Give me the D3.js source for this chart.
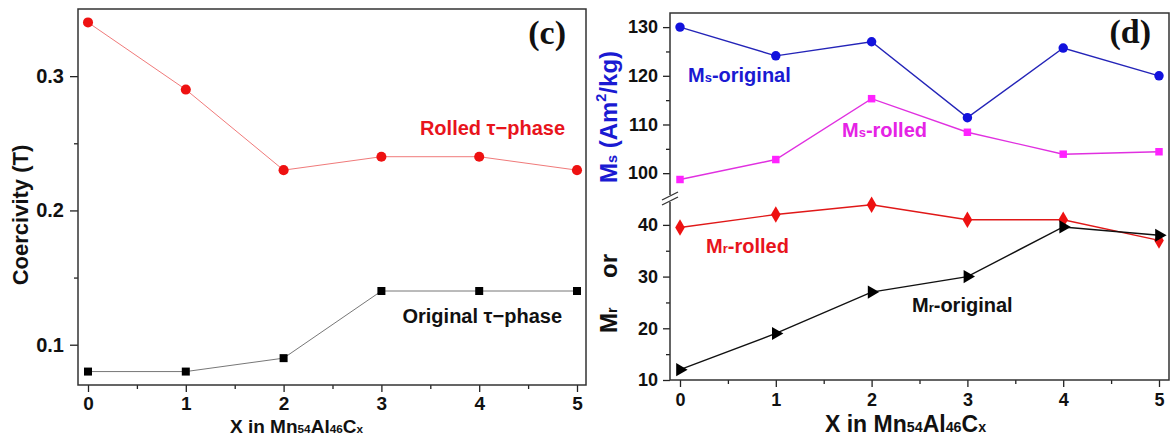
<!DOCTYPE html>
<html>
<head>
<meta charset="utf-8">
<script src="https://cdn.jsdelivr.net/npm/d3@7"></script>
<style>
  html, body { margin: 0; padding: 0; background: #ffffff; }
  svg { display: block; }
  text { font-family: "Liberation Sans", Arial, sans-serif; font-weight: bold; }
  text.panel-tag { font-family: "Liberation Serif", "Times New Roman", serif; }
</style>
</head>
<body>
<svg id="chart" width="1171" height="445"></svg>
<script>
// Composition x in Mn54Al46Cx
const xValues = [0, 1, 2, 3, 4, 5];
const xMajorTicks = [0, 1, 2, 3, 4, 5];
const xMinorTicks = [0.5, 1.5, 2.5, 3.5, 4.5];

// Panel (c): coercivity (T)
const coercRolled = [0.34, 0.29, 0.23, 0.24, 0.24, 0.23];
const coercOriginal = [0.08, 0.08, 0.09, 0.14, 0.14, 0.14];
const coercMajorTicks = [0.1, 0.2, 0.3];
const coercMinorTicks = [0.15, 0.25];

// Panel (d): saturation magnetisation Ms (upper) and remanence Mr (lower), Am²/kg
const msOriginal = [130, 124.1, 127, 111.4, 125.7, 120];
const msRolled = [98.7, 102.8, 115.3, 108.4, 103.9, 104.4];
const mrRolled = [39.5, 42, 43.9, 41, 41, 37];
const mrOriginal = [12, 19, 27, 30, 39.6, 38];
const msMajorTicks = [100, 110, 120, 130];
const msMinorTicks = [105, 115, 125];
const mrMajorTicks = [10, 20, 30, 40];
const mrMinorTicks = [15, 25, 35];

const svg = d3.select("#chart");

// Write a text element made of styled runs (subscripts, superscripts, colours)
function richText(parent, x, y, runs, size, opts = {}) {
  const t = parent.append("text")
    .attr("x", x).attr("y", y)
    .attr("font-size", size)
    .attr("text-anchor", opts.anchor || "start")
    .attr("fill", opts.fill || "#111");
  if (opts.transform) t.attr("transform", opts.transform);
  let shift = 0;
  runs.forEach(r => {
    const sc = r.scale || 1;
    const target = r.shift || 0;
    const ts = t.append("tspan").text(r.t).attr("font-size", size * sc);
    if (target !== shift) { ts.attr("dy", (target - shift) * size); shift = target; }
    if (r.fill) ts.attr("fill", r.fill);
  });
  return t;
}

function drawTicks(g, axis, scale, major, minor, majorLen, minorLen, pad, fontSize, fmt) {
  const gMaj = g.append("g").call(axis(scale).tickValues(major).tickSize(majorLen)
    .tickSizeOuter(0).tickPadding(pad).tickFormat(fmt));
  gMaj.select(".domain").remove();
  gMaj.selectAll("text").attr("font-size", fontSize).attr("fill", "#111");
  gMaj.selectAll("line").attr("stroke", "#222").attr("stroke-width", 1.3);
  const gMin = g.append("g").call(axis(scale).tickValues(minor).tickSize(minorLen)
    .tickSizeOuter(0).tickFormat(""));
  gMin.select(".domain").remove();
  gMin.selectAll("line").attr("stroke", "#222").attr("stroke-width", 1.3);
  return gMaj;
}

function series(g, x, y, xs, ys, lineColor, lineWidth, symbol, symSize, fill, rotate = 0) {
  const line = d3.line().x((d, i) => x(xs[i])).y(d => y(d));
  g.append("path").datum(ys).attr("d", line)
    .attr("fill", "none").attr("stroke", lineColor).attr("stroke-width", lineWidth);
  g.selectAll(null).data(ys).join("path")
    .attr("d", d3.symbol().type(symbol).size(symSize))
    .attr("transform", (d, i) => `translate(${x(xs[i])},${y(d)}) rotate(${rotate})`)
    .attr("fill", fill);
}

// ---------- Panel (c) ----------
const cL = 78, cR = 586, cT = 9, cB = 385;
const xC = d3.scaleLinear([0, 5], [88, 577]);
const yC = d3.scaleLinear([0.07, 0.35], [cB, cT]);
const gc = svg.append("g");

gc.append("g").attr("transform", `translate(0,${cB})`).call(g =>
  drawTicks(g, d3.axisBottom, xC, xMajorTicks, xMinorTicks, 7, 4, 5, 19, d3.format("d")));
gc.append("g").attr("transform", `translate(${cL},0)`).call(g =>
  drawTicks(g, d3.axisLeft, yC, coercMajorTicks, coercMinorTicks, 8, 4, 6, 20, d3.format(".1f")));

gc.append("rect").attr("x", cL).attr("y", cT).attr("width", cR - cL).attr("height", cB - cT)
  .attr("fill", "none").attr("stroke", "#333").attr("stroke-width", 1.5);

series(gc, xC, yC, xValues, coercRolled, "#f07a7a", 1, d3.symbolCircle, 80, "#ee1111");
series(gc, xC, yC, xValues, coercOriginal, "#777", 1, d3.symbolSquare, 64, "#000");

richText(gc, 565, 135, [{ t: "Rolled τ−phase" }], 20, { anchor: "end", fill: "#e8141c" });
richText(gc, 562, 323, [{ t: "Original τ−phase" }], 20, { anchor: "end", fill: "#111" });
gc.append("text").attr("class", "panel-tag").attr("x", 566).attr("y", 44)
  .attr("text-anchor", "end").attr("font-size", 34).attr("fill", "#111").text("(c)");

richText(gc, 230, 433, [
  { t: "X in Mn" }, { t: "54", scale: 0.62 }, { t: "Al" }, { t: "46", scale: 0.62 },
  { t: "C" }, { t: "x", scale: 0.62 }], 19);
richText(gc, 0, 0, [{ t: "Coercivity (T)" }], 22,
  { anchor: "middle", transform: "translate(28,215) rotate(-90)" });

// ---------- Panel (d) ----------
const dL = 670, dR = 1169, dT = 13, dB = 380, brk = 198;
const xD = d3.scaleLinear([0, 5], [680, 1159]);
const yMs = d3.scaleLinear([94.9, 132.9], [brk, dT]);
const yMr = d3.scaleLinear([10, 45.2], [dB, brk]);
const gd = svg.append("g");

gd.append("g").attr("transform", `translate(0,${dB})`).call(g =>
  drawTicks(g, d3.axisBottom, xD, xMajorTicks, xMinorTicks, 7, 4, 6, 18, d3.format("d")));
gd.append("g").attr("transform", `translate(${dL},0)`).call(g =>
  drawTicks(g, d3.axisLeft, yMs, msMajorTicks, msMinorTicks, 7, 4, 5, 18, d3.format("d")));
gd.append("g").attr("transform", `translate(${dL},0)`).call(g =>
  drawTicks(g, d3.axisLeft, yMr, mrMajorTicks, mrMinorTicks, 7, 4, 5, 18, d3.format("d")));

// frame with a broken left axis
const fr = gd.append("g").attr("stroke", "#333").attr("stroke-width", 1.5).attr("fill", "none");
fr.append("path").attr("d", `M${dL},${brk - 3}V${dT}H${dR}V${dB}H${dL}V${brk + 4}`);
fr.append("line").attr("x1", dL - 8).attr("y1", brk + 2).attr("x2", dL + 8).attr("y2", brk - 6)
  .attr("stroke-width", 1.3);
fr.append("line").attr("x1", dL - 8).attr("y1", brk + 7).attr("x2", dL + 8).attr("y2", brk - 1)
  .attr("stroke-width", 1.3);

series(gd, xD, yMs, xValues, msOriginal, "#2424b8", 1.4, d3.symbolCircle, 70, "#1212dd");
series(gd, xD, yMs, xValues, msRolled, "#e030e0", 1.4, d3.symbolSquare, 56, "#ff22ff");
series(gd, xD, yMr, xValues, mrRolled, "#e01818", 1.4, d3.symbolDiamond, 80, "#ee1111");
series(gd, xD, yMr, xValues, mrOriginal, "#111", 1.4, d3.symbolTriangle, 75, "#000", 90);

richText(gd, 688, 82, [{ t: "M" }, { t: "s", scale: 0.65 }, { t: "-original" }], 20, { fill: "#1a1ad2" });
richText(gd, 927, 137, [{ t: "M" }, { t: "s", scale: 0.65 }, { t: "-rolled" }], 20,
  { anchor: "end", fill: "#e523e5" });
richText(gd, 706, 253, [{ t: "M" }, { t: "r", scale: 0.65 }, { t: "-rolled" }], 20, { fill: "#e8141c" });
richText(gd, 912, 312, [{ t: "M" }, { t: "r", scale: 0.65 }, { t: "-original" }], 20, { fill: "#111" });
gd.append("text").attr("class", "panel-tag").attr("x", 1151).attr("y", 43)
  .attr("text-anchor", "end").attr("font-size", 34).attr("fill", "#111").text("(d)");

richText(gd, 825, 432, [
  { t: "X in Mn" }, { t: "54", scale: 0.62 }, { t: "Al" }, { t: "46", scale: 0.62 },
  { t: "C" }, { t: "x", scale: 0.62 }], 23);

// rotated y title: "Mr or Ms (Am²/kg)"
const yt = gd.append("g").attr("transform", "translate(617,0) rotate(-90)");
richText(yt, -333, 0, [{ t: "M" }, { t: "r", scale: 0.6 }], 24, { fill: "#111" });
richText(yt, -278, 0, [{ t: "or" }], 24, { fill: "#111" });
richText(yt, -183, 0, [{ t: "M" }, { t: "s", scale: 0.6 }, { t: " (Am" },
  { t: "2", scale: 0.6, shift: -0.45 }, { t: "/kg)", shift: 0 }], 24, { fill: "#1a1ad2" });
</script>
</body>
</html>
